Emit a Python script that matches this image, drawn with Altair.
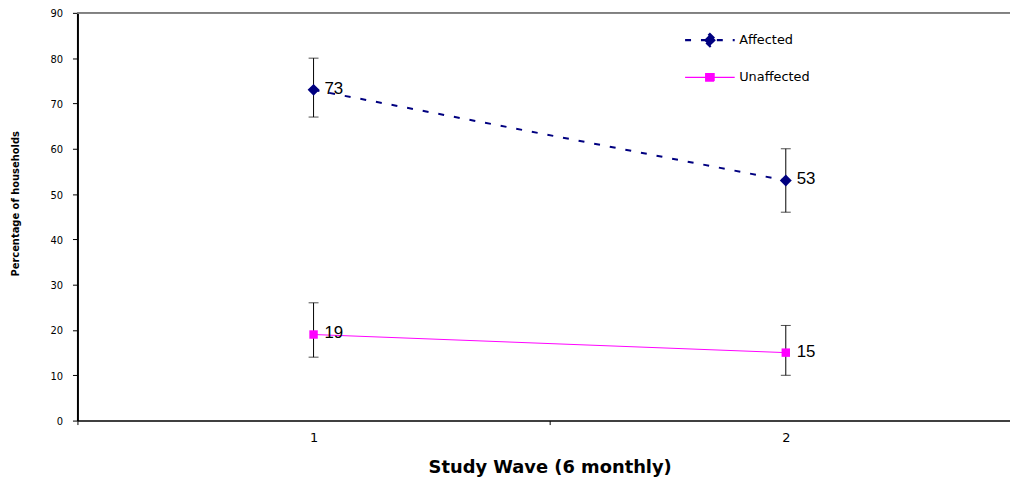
import altair as alt
import pandas as pd

# ---- data ----
series_names = ["Affected", "Unaffected"]
waves = [1, 2]
affected_pct = [73, 53]
affected_lo = [67, 46]
affected_hi = [80, 60]
unaffected_pct = [19, 15]
unaffected_lo = [14, 10]
unaffected_hi = [26, 21]
y_ticks = [0, 10, 20, 30, 40, 50, 60, 70, 80, 90]
x_ticks = [0.5, 1, 1.5, 2]

series_colors = ["#000080", "#FF00FF"]

rows = []
for w, v, lo, hi in zip(waves, affected_pct, affected_lo, affected_hi):
    rows.append({"series": "Affected", "wave": w, "pct": v, "lo": lo, "hi": hi})
for w, v, lo, hi in zip(waves, unaffected_pct, unaffected_lo, unaffected_hi):
    rows.append({"series": "Unaffected", "wave": w, "pct": v, "lo": lo, "hi": hi})
df = pd.DataFrame(rows)

W = 940
H = 411
PX_PER_WAVE = 476
x_max = 0.5 + W / PX_PER_WAVE

FONT = "DejaVu Sans"

x_scale = alt.Scale(domain=[0.5, x_max], nice=False, zero=False)
y_scale = alt.Scale(domain=[0, 90], nice=False)

x_axis = alt.Axis(
    values=x_ticks,
    labelExpr="datum.value % 1 == 0 ? format(datum.value, 'd') : ''",
    tickOpacity={"condition": {"test": "datum.value % 1 != 0", "value": 1}, "value": 0},
    title="Study Wave (6 monthly)",
    titleFont=FONT,
    titleFontSize=18,
    titleFontWeight="bold",
    titleX=476,
    titleY=52,
    titleBaseline="alphabetic",
    titleAnchor="start",
    titleAlign="center",
    labelFont=FONT,
    labelFontSize=13,
    labelColor="black",
    labelPadding=7,
    tickSize=4,
    tickColor="black",
    domainColor="black",
    domainWidth=1.5,
    grid=False,
)
y_axis = alt.Axis(
    values=y_ticks,
    title="Percentage of households",
    titleFont=FONT,
    titleFontSize=10,
    titleFontWeight="bold",
    titleX=-62,
    titleY=192,
    titleAngle=270,
    titleBaseline="middle",
    titleAlign="center",
    labelFont=FONT,
    labelFontSize=10,
    labelColor="black",
    labelPadding=10,
    labelOffset=1,
    tickSize=5,
    tickColor="black",
    domainColor="black",
    domainWidth=2,
    grid=False,
)

X = alt.X("wave:Q", scale=x_scale, axis=x_axis)
Y = alt.Y("pct:Q", scale=y_scale, axis=y_axis)

color_scale = alt.Scale(domain=series_names, range=series_colors)
dash_scale = alt.Scale(domain=series_names, range=[[6, 10], [1, 0]])
width_scale = alt.Scale(domain=series_names, range=[2.5, 1.2])
legend_paths = [
    "M-1,0H1M0,-0.24L0.24,0L0,0.24L-0.24,0Z",
    "M-1,0H1M-0.17,-0.15H0.17V0.15H-0.17Z",
]
shape_scale = alt.Scale(domain=series_names, range=legend_paths)

base = alt.Chart(df)
aff = base.transform_filter(alt.datum.series == series_names[0])
unaff = base.transform_filter(alt.datum.series == series_names[1])

top_border = base.mark_rule(color="#808080", strokeWidth=1.5).encode(y=alt.datum(90))

line_aff = aff.mark_line(strokeDash=[6, 10], strokeWidth=2, color=series_colors[0]).encode(x=X, y=Y)
line_unaff = unaff.mark_line(strokeWidth=1, color=series_colors[1]).encode(x=X, y=Y)

err_rule = base.mark_rule(color="black", strokeWidth=1).encode(
    x=X, y=alt.Y("lo:Q", scale=y_scale), y2="hi:Q"
)
cap_lo = base.mark_tick(orient="horizontal", size=10, thickness=1, color="black").encode(
    x=X, y=alt.Y("lo:Q", scale=y_scale)
)
cap_hi = base.mark_tick(orient="horizontal", size=10, thickness=1, color="black").encode(
    x=X, y=alt.Y("hi:Q", scale=y_scale)
)

pts_aff = aff.mark_point(
    filled=True, shape="diamond", size=144, opacity=1, color=series_colors[0]
).encode(x=X, y=Y)
pts_unaff = unaff.mark_point(
    filled=True, shape="square", size=72, opacity=1, color=series_colors[1]
).encode(x=X, y=Y)

labels = base.mark_text(
    align="left", baseline="middle", dx=11, dy=-1, fontSize=17, font="Liberation Sans", color="black"
).encode(x=X, y=Y, text="pct:Q")

leg = alt.Legend(title=None)
legend_layer = base.transform_filter("false").mark_point(filled=True, size=2500, opacity=1).encode(
    x=X,
    y=Y,
    shape=alt.Shape("series:N", scale=shape_scale, legend=leg),
    fill=alt.Fill("series:N", scale=color_scale, legend=leg),
    stroke=alt.Stroke("series:N", scale=color_scale, legend=leg),
    strokeDash=alt.StrokeDash("series:N", scale=dash_scale, legend=leg),
    strokeWidth=alt.StrokeWidth("series:N", scale=width_scale, legend=leg),
)

chart = (
    alt.layer(
        legend_layer, top_border, line_aff, line_unaff, err_rule, cap_lo, cap_hi,
        pts_aff, pts_unaff, labels,
    )
    .properties(
        width=W,
        height=H,
        autosize=alt.AutoSizeParams(type="none"),
        padding={"left": 70, "top": 3, "right": 0, "bottom": 59},
    )
    .configure_view(stroke=None)
    .configure_legend(
        orient="none",
        legendX=611,
        legendY=1,
        padding=0,
        symbolSize=2500,
        labelFont=FONT,
        labelFontSize=13,
        labelColor="black",
        labelOffset=3,
        rowPadding=0,
    )
)

chart.save("out.html", embed_options={"renderer": "svg", "actions": False})
